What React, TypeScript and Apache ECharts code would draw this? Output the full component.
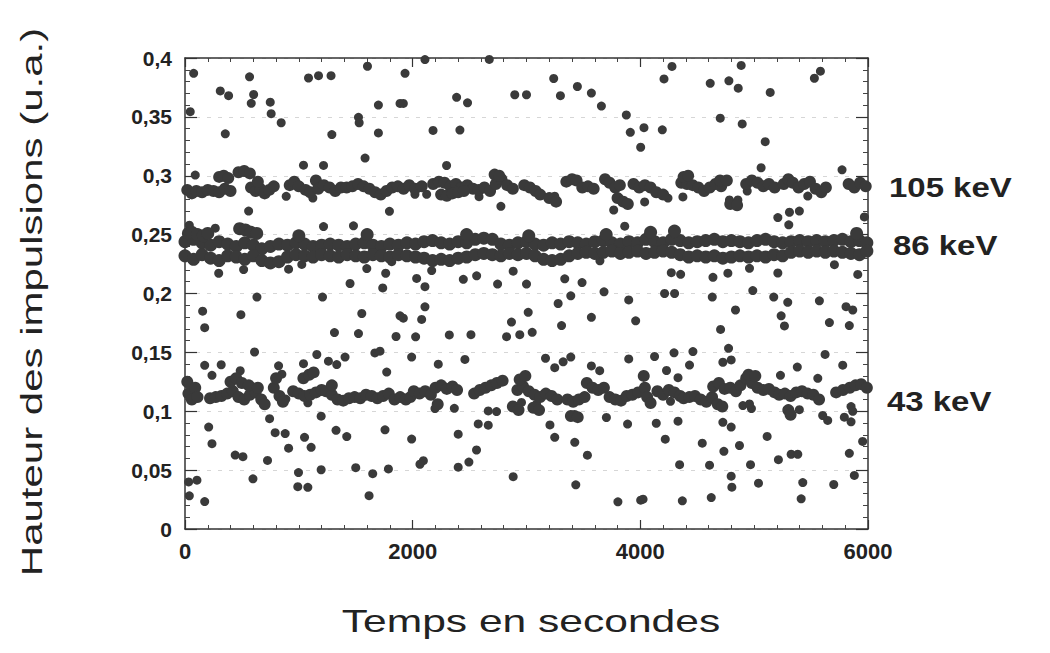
import React, { useEffect, useRef } from "react";
import * as echarts from "echarts";

// Isolated pulses (time in s, pulse height in a.u.)
const scattered: [number, number][] = [
  [76, 0.387], [567, 0.384], [1085, 0.383], [1173, 0.385], [1283, 0.385], [1603, 0.393], [1933, 0.387],
  [310, 0.372], [383, 0.368], [603, 0.369], [582, 0.3615], [749, 0.3625], [757, 0.3527], [46, 0.3544],
  [845, 0.345], [354, 0.3356], [1290, 0.335], [1524, 0.3496], [1530, 0.345], [1699, 0.36], [1889, 0.3614],
  [1918, 0.3614], [1699, 0.3364], [1582, 0.315], [1041, 0.309], [1217, 0.3088], [889, 0.2825], [1123, 0.281],
  [559, 0.27], [1796, 0.2698], [1217, 0.2568], [1480, 0.2575], [38, 0.258], [266, 0.2555], [296, 0.2172],
  [515, 0.2203], [910, 0.2207], [1026, 0.2247], [1597, 0.2212], [1763, 0.2172], [1816, 0.227], [1450, 0.2085],
  [1737, 0.2047], [90, 0.3006],
  [2108, 0.3987], [2673, 0.3988], [2386, 0.3666], [2482, 0.3619], [2897, 0.3688], [3000, 0.3688], [3239, 0.3826],
  [3298, 0.368], [3447, 0.3758], [3570, 0.3702], [3658, 0.3592], [3877, 0.3516], [3912, 0.3369], [4003, 0.3242],
  [2179, 0.3385], [2415, 0.3388], [2298, 0.3087], [2020, 0.2843], [2123, 0.2843], [2583, 0.2822], [2775, 0.274],
  [3248, 0.2826], [4038, 0.2778], [3766, 0.2709], [3863, 0.2572], [2035, 0.2128], [2108, 0.2058], [2167, 0.2195],
  [2445, 0.212], [2562, 0.215], [2746, 0.208], [2883, 0.219], [3000, 0.208], [3336, 0.2125], [3488, 0.2093],
  [3645, 0.2278],
  [4278, 0.3928], [4208, 0.3822], [4614, 0.3785], [4778, 0.3806], [4860, 0.3744], [4886, 0.3937], [5141, 0.3708],
  [5529, 0.3828], [5582, 0.3888], [4702, 0.3489], [4895, 0.344], [4032, 0.3408], [4193, 0.339], [5097, 0.3289],
  [5061, 0.3068], [5772, 0.305], [4243, 0.281], [4374, 0.282], [4783, 0.2794], [4857, 0.2794], [4939, 0.287],
  [5471, 0.2827], [5310, 0.269], [5397, 0.27], [5208, 0.2645], [5304, 0.2583], [5968, 0.265], [4272, 0.2177],
  [4354, 0.2163], [4638, 0.2137], [4769, 0.2173], [4959, 0.2214], [5208, 0.2174], [5705, 0.2245], [5910, 0.2162],
  [155, 0.185], [173, 0.171], [491, 0.182], [611, 0.1503], [1553, 0.183], [1889, 0.181], [1918, 0.179],
  [1313, 0.1668], [1524, 0.166], [1854, 0.1635], [1158, 0.1482], [1406, 0.146], [1668, 0.1495], [1713, 0.151],
  [173, 0.139], [318, 0.1395], [237, 0.1305], [485, 0.1344], [822, 0.1386], [851, 0.1315], [1041, 0.1404],
  [1260, 0.1425], [1333, 0.1396], [1772, 0.1333], [1991, 0.146], [886, 0.1103], [1079, 0.1072], [743, 0.0937],
  [1196, 0.0958], [208, 0.0866], [237, 0.0725], [792, 0.0818], [880, 0.081], [1050, 0.0779], [1327, 0.0838],
  [1421, 0.0785], [1757, 0.0842], [1991, 0.0764], [910, 0.0686], [1108, 0.0694], [441, 0.0628], [509, 0.0614],
  [725, 0.0582], [597, 0.0426], [997, 0.0479], [1196, 0.0503], [1500, 0.0521], [1649, 0.047], [1787, 0.051],
  [32, 0.04], [105, 0.0415], [991, 0.0359], [1079, 0.0354], [38, 0.0282], [173, 0.0233], [1617, 0.0283],
  [632, 0.197], [1208, 0.197],
  [2108, 0.1887], [2079, 0.178], [2026, 0.1632], [2322, 0.1648], [2512, 0.165], [2825, 0.1633], [2941, 0.165],
  [3050, 0.167], [2868, 0.1757], [3015, 0.184], [3278, 0.1915], [3389, 0.198], [3308, 0.1728], [3570, 0.1798],
  [3681, 0.2014], [3898, 0.1945], [3959, 0.1768], [2225, 0.14], [2459, 0.144], [3167, 0.145], [3248, 0.137],
  [3322, 0.142], [3389, 0.146], [3570, 0.1385], [3643, 0.1345], [3898, 0.1444], [2196, 0.1023], [2366, 0.1025],
  [2664, 0.1003], [2737, 0.0997], [2956, 0.1075], [3088, 0.106], [3424, 0.0973], [3702, 0.0947], [3888, 0.0891],
  [3206, 0.0884], [2576, 0.0892], [2664, 0.0882], [2400, 0.0805], [3248, 0.0779], [3424, 0.0736], [2561, 0.0671],
  [2094, 0.058], [2064, 0.055], [2494, 0.0568], [2400, 0.0525], [3535, 0.0627], [2883, 0.0444], [3433, 0.0375],
  [3803, 0.0231], [4003, 0.0245],
  [4213, 0.2], [4301, 0.2], [4632, 0.197], [4988, 0.2025], [5172, 0.197], [5295, 0.1925], [5573, 0.1938],
  [4836, 0.186], [5807, 0.1888], [5866, 0.186], [5237, 0.181], [5266, 0.1725], [4705, 0.1695], [5661, 0.1753],
  [5836, 0.1728], [4296, 0.1496], [4462, 0.1507], [4125, 0.1465], [4775, 0.1534], [4725, 0.1416], [4798, 0.1436],
  [4432, 0.1392], [4230, 0.1346], [5623, 0.1483], [5379, 0.1375], [5778, 0.1391], [4331, 0.1285], [5231, 0.1305],
  [5559, 0.128], [4265, 0.1084], [4976, 0.1023], [5397, 0.1013], [4901, 0.1048], [4959, 0.1062], [5851, 0.104],
  [5866, 0.1], [5602, 0.0964], [5646, 0.0922], [5792, 0.095], [5851, 0.091], [4140, 0.0898], [4331, 0.0916],
  [4725, 0.0906], [4798, 0.0866], [5114, 0.0786], [4219, 0.0763], [4544, 0.0729], [4871, 0.0709], [4734, 0.066],
  [5325, 0.0635], [5383, 0.0635], [5836, 0.0643], [5953, 0.0744], [5213, 0.0589], [4345, 0.0546], [4608, 0.0542],
  [4968, 0.0546], [5880, 0.0455], [4798, 0.0449], [4804, 0.0355], [5038, 0.0389], [5427, 0.0394], [5699, 0.0378],
  [4024, 0.0253], [4369, 0.0239], [4623, 0.0267], [5413, 0.0256],
];

// 105 keV line
const band105: [number, number][] = [
  [20, 0.288], [60, 0.285], [100, 0.287], [150, 0.286], [200, 0.288], [250, 0.287], [300, 0.286], [350, 0.289],
  [400, 0.287], [300, 0.299], [340, 0.3], [380, 0.298], [470, 0.303], [520, 0.304], [570, 0.302],
  [580, 0.29], [620, 0.287], [660, 0.289], [700, 0.285], [740, 0.288], [780, 0.291], [640, 0.295],
  [920, 0.292], [960, 0.295], [1000, 0.291], [1060, 0.288], [1100, 0.286], [1150, 0.296], [1170, 0.289],
  [1220, 0.292], [1270, 0.29], [1320, 0.287], [1370, 0.29],
  [1420, 0.29], [1470, 0.291], [1520, 0.293], [1570, 0.291], [1620, 0.289], [1670, 0.286], [1720, 0.284],
  [1770, 0.287], [1820, 0.29], [1870, 0.291], [1920, 0.289], [1970, 0.292], [2020, 0.289], [2080, 0.291],
  [2180, 0.293], [2230, 0.295], [2280, 0.294], [2330, 0.291], [2380, 0.293], [2430, 0.29], [2480, 0.292],
  [2530, 0.289], [2250, 0.284], [2300, 0.283], [2350, 0.285], [2400, 0.286], [2450, 0.287],
  [2580, 0.288], [2630, 0.29], [2680, 0.287], [2730, 0.293], [2780, 0.297], [2830, 0.292], [2880, 0.289],
  [2720, 0.301], [2760, 0.3], [2980, 0.292], [3030, 0.29], [3080, 0.287], [3120, 0.284], [3200, 0.281],
  [3260, 0.278], [3350, 0.295], [3400, 0.297], [3440, 0.296], [3490, 0.29], [3540, 0.291], [3590, 0.289],
  [3690, 0.297], [3730, 0.294], [3780, 0.29], [3820, 0.292], [3800, 0.281], [3850, 0.278], [3890, 0.276],
  [3940, 0.293], [3990, 0.29], [4040, 0.292], [4090, 0.29], [4140, 0.286], [4200, 0.284],
  [4360, 0.294], [4410, 0.293], [4460, 0.292], [4510, 0.29], [4560, 0.287], [4610, 0.29], [4660, 0.293],
  [4710, 0.291], [4380, 0.299], [4420, 0.3], [4700, 0.296], [4760, 0.296], [4790, 0.276], [4850, 0.275],
  [4930, 0.293], [4980, 0.296], [5030, 0.294], [5080, 0.291], [5130, 0.293], [5180, 0.29],
  [5260, 0.293], [5300, 0.297], [5340, 0.294], [5390, 0.29], [5440, 0.293], [5490, 0.295], [5540, 0.289],
  [5590, 0.286], [5630, 0.29], [5830, 0.293], [5880, 0.29], [5930, 0.294], [5980, 0.291],
];

// 86 keV line: sampled times with the upper and lower edge of the trace
const band86X = [
  0, 75, 150, 225, 300, 375, 450, 525, 600, 675, 750, 825, 900, 975, 1050, 1125, 1200, 1275, 1350, 1425,
  1500, 1575, 1650, 1725, 1800, 1875, 1950, 2025, 2100, 2175, 2250, 2325, 2400, 2475, 2550, 2625, 2700, 2775,
  2850, 2925, 3000, 3075, 3150, 3225, 3300, 3375, 3450, 3525, 3600, 3675, 3750, 3825, 3900, 3975, 4050, 4125,
  4200, 4275, 4350, 4425, 4500, 4575, 4650, 4725, 4800, 4875, 4950, 5025, 5100, 5175, 5250, 5325, 5400, 5475,
  5550, 5625, 5700, 5775, 5850, 5925, 5990,
];
const band86Upper = [
  0.244, 0.246, 0.243, 0.241, 0.244, 0.242, 0.24, 0.243, 0.241, 0.238,
  0.24, 0.242, 0.241, 0.243, 0.242, 0.24, 0.241, 0.242, 0.241, 0.24,
  0.242, 0.243, 0.241, 0.24, 0.242, 0.241, 0.243, 0.242, 0.244, 0.245,
  0.243, 0.242, 0.244, 0.243, 0.246, 0.247, 0.246, 0.242, 0.241, 0.243,
  0.244, 0.242, 0.241, 0.243, 0.242, 0.244, 0.243, 0.242, 0.244, 0.245,
  0.243, 0.242, 0.244, 0.243, 0.246, 0.244, 0.243, 0.246, 0.245, 0.243,
  0.244, 0.245, 0.246, 0.244, 0.245, 0.244, 0.243, 0.245, 0.246, 0.244,
  0.243, 0.244, 0.245, 0.244, 0.245, 0.244, 0.245, 0.246, 0.244, 0.245,
  0.243,
];
const band86Lower = [
  0.232, 0.229, 0.233, 0.23, 0.228, 0.232, 0.231, 0.229, 0.232, 0.228,
  0.226, 0.227, 0.231, 0.233, 0.232, 0.231, 0.233, 0.232, 0.231, 0.233,
  0.232, 0.231, 0.233, 0.232, 0.231, 0.233, 0.232, 0.231, 0.23, 0.228,
  0.229, 0.228, 0.23, 0.231, 0.233, 0.234, 0.233, 0.232, 0.234, 0.233,
  0.234, 0.232, 0.229, 0.228, 0.229, 0.232, 0.234, 0.235, 0.234, 0.235,
  0.236, 0.234, 0.235, 0.236, 0.234, 0.235, 0.236, 0.235, 0.233, 0.231,
  0.232, 0.231, 0.232, 0.23, 0.231, 0.232, 0.231, 0.232, 0.231, 0.233,
  0.232, 0.235, 0.236, 0.235, 0.236, 0.235, 0.236, 0.235, 0.234, 0.233,
  0.236,
];
const band86Extra: [number, number][] = [
  [30, 0.251], [60, 0.252], [110, 0.25], [160, 0.249], [200, 0.251], [480, 0.255], [530, 0.254], [580, 0.252],
  [630, 0.251], [1000, 0.249], [1600, 0.25], [2474, 0.25], [3020, 0.249], [3700, 0.25], [4090, 0.252],
  [4300, 0.253], [5900, 0.251],
];

// 43 keV line
const band43: [number, number][] = [
  [20, 0.125], [30, 0.115], [60, 0.11], [90, 0.12], [110, 0.112],
  [220, 0.111], [270, 0.112], [320, 0.113], [370, 0.115], [420, 0.117], [470, 0.112], [520, 0.11], [570, 0.114],
  [620, 0.116], [670, 0.11], [400, 0.125], [450, 0.128], [500, 0.124], [560, 0.122], [640, 0.12], [700, 0.106],
  [780, 0.12], [800, 0.128], [830, 0.113], [860, 0.108],
  [950, 0.117], [1000, 0.115], [1050, 0.113], [1100, 0.114], [1150, 0.116], [1200, 0.118], [1240, 0.117],
  [1040, 0.128], [1090, 0.131], [1130, 0.133],
  [1290, 0.114], [1340, 0.11], [1390, 0.109], [1440, 0.111], [1490, 0.112], [1540, 0.111], [1590, 0.114],
  [1640, 0.113], [1690, 0.111], [1740, 0.113], [1790, 0.115], [1840, 0.11], [1890, 0.112], [1940, 0.11],
  [1980, 0.112], [1290, 0.122],
  [2010, 0.117], [2060, 0.115], [2110, 0.117], [2160, 0.114], [2200, 0.12], [2250, 0.122], [2300, 0.119],
  [2350, 0.121], [2390, 0.118], [2220, 0.106],
  [2540, 0.115], [2590, 0.118], [2640, 0.12], [2690, 0.122], [2740, 0.124], [2790, 0.126],
  [2920, 0.118], [2970, 0.121], [3020, 0.117], [3070, 0.114], [3120, 0.112], [3170, 0.115], [3220, 0.113],
  [3270, 0.11], [2940, 0.127], [2990, 0.13], [3060, 0.103], [3110, 0.101], [2880, 0.104], [2930, 0.101],
  [3360, 0.11], [3410, 0.108], [3460, 0.11], [3510, 0.112], [3390, 0.096], [3450, 0.095],
  [3530, 0.124], [3580, 0.12], [3630, 0.118], [3680, 0.12],
  [3730, 0.112], [3780, 0.11], [3830, 0.109], [3880, 0.113], [3930, 0.114], [3980, 0.116],
  [4030, 0.13], [4040, 0.12], [4060, 0.112], [4090, 0.107],
  [4150, 0.117], [4200, 0.114], [4250, 0.118], [4300, 0.116], [4350, 0.113],
  [4380, 0.111], [4430, 0.112], [4480, 0.113], [4530, 0.11], [4580, 0.108], [4630, 0.112], [4680, 0.106],
  [4720, 0.104], [4640, 0.121], [4690, 0.124], [4740, 0.119], [4790, 0.12], [4840, 0.117],
  [4880, 0.122], [4930, 0.128], [4980, 0.124], [5030, 0.12], [5080, 0.118], [5130, 0.119], [5180, 0.116],
  [4950, 0.131], [5010, 0.13],
  [5220, 0.114], [5270, 0.115], [5320, 0.113], [5370, 0.116], [5420, 0.117], [5470, 0.115], [5520, 0.114],
  [5570, 0.11], [5300, 0.101], [5320, 0.097],
  [5720, 0.116], [5780, 0.118], [5840, 0.12], [5890, 0.122], [5940, 0.123], [5990, 0.12],
];

const lineLabels = ["105 keV", "86 keV", "43 keV"];
const xAxisTitle = "Temps en secondes";
const yAxisTitle = "Hauteur des impulsions (u.a.)";

const X_MIN = 0;
const X_MAX = 6000;
const X_STEP = 2000;
const Y_MIN = 0;
const Y_MAX = 0.4;
const Y_STEP = 0.05;

const INK = "#222";
const DOT = "#3a3a3a";

function fmtY(v: number): string {
  const s = parseFloat(v.toFixed(2)).toString();
  return s.replace(".", ",");
}

export default function App() {
  const ref = useRef<HTMLDivElement | null>(null);

  useEffect(() => {
    if (!ref.current) return;
    const chart = echarts.init(ref.current, null, { renderer: "svg" });

    const axisLine = { show: true, onZero: false, lineStyle: { color: "#333", width: 1.5 } };
    const tickFont = { fontFamily: "Liberation Sans", fontWeight: "bold" as const, fontSize: 22, color: INK };

    const xBase = {
      type: "value" as const,
      min: X_MIN,
      max: X_MAX,
      interval: X_STEP,
      axisLine,
      axisTick: { show: true, inside: true, length: 9, lineStyle: { color: "#333", width: 1.2 } },
      minorTick: { show: true, splitNumber: 10, length: 4, lineStyle: { color: "#444", width: 1 } },
      splitLine: { show: false },
    };
    const yBase = {
      type: "value" as const,
      min: Y_MIN,
      max: Y_MAX,
      interval: Y_STEP,
      axisLine,
      axisTick: { show: true, inside: true, length: 12, lineStyle: { color: "#333", width: 1.2 } },
      minorTick: { show: true, splitNumber: 5, length: 5, lineStyle: { color: "#444", width: 1 } },
    };

    const band86: [number, number][] = [
      ...band86X.map((x, i) => [x, band86Upper[i]] as [number, number]),
      ...band86X.map((x, i) => [x, band86Lower[i]] as [number, number]),
      ...band86Extra,
    ];

    const dotSeries = (name: string, data: [number, number][], size: number) => ({
      name,
      type: "scatter" as const,
      data,
      symbol: "circle",
      symbolSize: size,
      itemStyle: { color: DOT, opacity: 1 },
      xAxisIndex: 0,
      yAxisIndex: 0,
      silent: true,
    });

    chart.setOption({
      animation: false,
      backgroundColor: "#ffffff",
      grid: { left: 185, top: 58, width: 683, height: 471, containLabel: false },
      xAxis: [
        {
          ...xBase,
          position: "bottom",
          axisLabel: { ...tickFont, margin: 11, formatter: (v: number) => String(v) },
        },
        { ...xBase, position: "top", axisLabel: { show: false } },
      ],
      yAxis: [
        {
          ...yBase,
          position: "left",
          axisLabel: { ...tickFont, fontSize: 21, margin: 13, formatter: (v: number) => fmtY(v) },
          splitLine: { show: true, lineStyle: { color: "#d6d6d6", width: 1, type: [4, 7] } },
        },
        { ...yBase, position: "right", axisLabel: { show: false }, splitLine: { show: false } },
      ],
      series: [
        dotSeries("Impulsions isolées", scattered, 9),
        dotSeries(lineLabels[0], band105, 12),
        dotSeries(lineLabels[1], band86, 13),
        dotSeries(lineLabels[2], band43, 12),
      ],
      graphic: [
        {
          type: "text",
          x: 32,
          y: 302,
          rotation: Math.PI / 2,
          scaleX: 1.4,
          style: {
            text: yAxisTitle,
            fontFamily: "Liberation Sans",
            fontSize: 30,
            fill: INK,
            align: "center",
            verticalAlign: "middle",
          },
        },
        {
          type: "text",
          x: 531,
          y: 621,
          scaleX: 1.33,
          style: {
            text: xAxisTitle,
            fontFamily: "Liberation Sans",
            fontSize: 32,
            fill: INK,
            align: "center",
            verticalAlign: "middle",
          },
        },
        ...[
          { t: lineLabels[0], x: 889, y: 188 },
          { t: lineLabels[1], x: 893, y: 246 },
          { t: lineLabels[2], x: 887, y: 402 },
        ].map((l) => ({
          type: "text",
          x: l.x,
          y: l.y,
          scaleX: 1.22,
          style: {
            text: l.t,
            fontFamily: "Liberation Sans",
            fontWeight: "bold",
            fontSize: 27,
            fill: INK,
            align: "left",
            verticalAlign: "middle",
          },
        })),
      ],
    });

    return () => {
      chart.dispose();
    };
  }, []);

  return (
    <div
      ref={ref}
      style={{ position: "fixed", left: 0, top: 0, width: 1050, height: 653, background: "#fff" }}
    />
  );
}
